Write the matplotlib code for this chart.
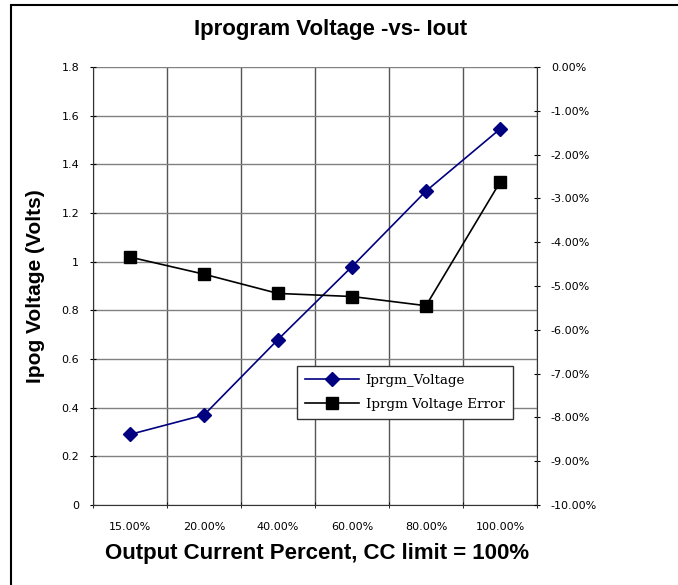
import matplotlib.pyplot as plt
from matplotlib.patches import Rectangle
from matplotlib.ticker import FuncFormatter

# categories on the x axis
categories = ["15.00%", "20.00%", "40.00%", "60.00%", "80.00%", "100.00%"]

# left axis: Iprgm voltage (volts)
iprgm_voltage = [0.29, 0.37, 0.68, 0.98, 1.29, 1.545]

# right axis: voltage error (percent)
voltage_error = [-4.34, -4.73, -5.17, -5.24, -5.45, -2.63]

W, H = 678, 585
fig = plt.figure(figsize=(W / 100, H / 100), dpi=100)
ax = fig.add_axes([93 / W, 1 - 505 / H, 444 / W, 438 / H])
ax2 = ax.twinx()

x = list(range(len(categories)))

ax.set_xlim(-0.5, len(categories) - 0.5)
ax.set_ylim(0, 1.8)
ax.set_yticks([i * 0.2 for i in range(10)])
ax.yaxis.set_major_formatter(FuncFormatter(lambda v, p: "%g" % round(v, 1)))
ax.set_xticks(x)
ax.set_xticklabels(categories)
ax.set_xticks([i - 0.5 for i in range(len(categories) + 1)], minor=True)
ax.tick_params(axis="x", which="major", length=0, pad=12, labelsize=8)
ax.tick_params(axis="x", which="minor", length=4, direction="inout")
ax.tick_params(axis="y", length=4, direction="inout", labelsize=8, pad=8)

ax.grid(True, axis="y", color="#808080", lw=1)
ax.grid(True, axis="x", which="minor", color="#555555", lw=1)
for s in ["top", "right"]:
    ax.spines[s].set_visible(False)
ax.spines["left"].set_color("#333333")
ax.spines["bottom"].set_color("#333333")

ax2.set_ylim(-10, 0)
ax2.set_yticks(range(-10, 1))
ax2.yaxis.set_major_formatter(FuncFormatter(lambda v, p: "%.2f%%" % v))
ax2.tick_params(axis="y", length=4, direction="inout", labelsize=8, pad=8)
for s in ["top", "left", "bottom"]:
    ax2.spines[s].set_visible(False)
ax2.spines["right"].set_color("#333333")

p1, = ax.plot(x, iprgm_voltage, color="#000080", marker="D", markersize=7,
              lw=1.2, label="Iprgm_Voltage", zorder=5)
p2, = ax2.plot(x, voltage_error, color="black", marker="s", markersize=9,
               lw=1.2, label="Iprgm Voltage Error", zorder=5)

leg = ax2.legend(handles=[p1, p2], loc="upper left",
                 bbox_to_anchor=((297 - 93) / 444, (505 - 366) / 438),
                 borderaxespad=0, frameon=True, fancybox=False,
                 edgecolor="#333333", framealpha=1,
                 prop={"family": "DejaVu Serif", "size": 9.7},
                 handlelength=4, handletextpad=0.5, borderpad=0.6, labelspacing=0.8)
leg.get_frame().set_linewidth(1)

fig.text(331 / W, 1 - 30 / H, "Iprogram Voltage -vs- Iout", ha="center", va="center",
         fontsize=16, fontweight="bold", family="Liberation Sans")
fig.text(36 / W, 1 - 286 / H, "Ipog Voltage (Volts)", ha="center", va="center",
         rotation=90, fontsize=15, fontweight="bold", family="Liberation Sans")
fig.text(317 / W, 1 - 553 / H, "Output Current Percent, CC limit = 100%", ha="center",
         va="center", fontsize=16, fontweight="bold", family="Liberation Sans")

fig.patches.append(Rectangle((11 / W, -0.1), 1.2, 1 - 5 / H + 0.1, transform=fig.transFigure,
                             fill=False, edgecolor="black", lw=1.5))

fig.savefig("out.png", dpi=100)
